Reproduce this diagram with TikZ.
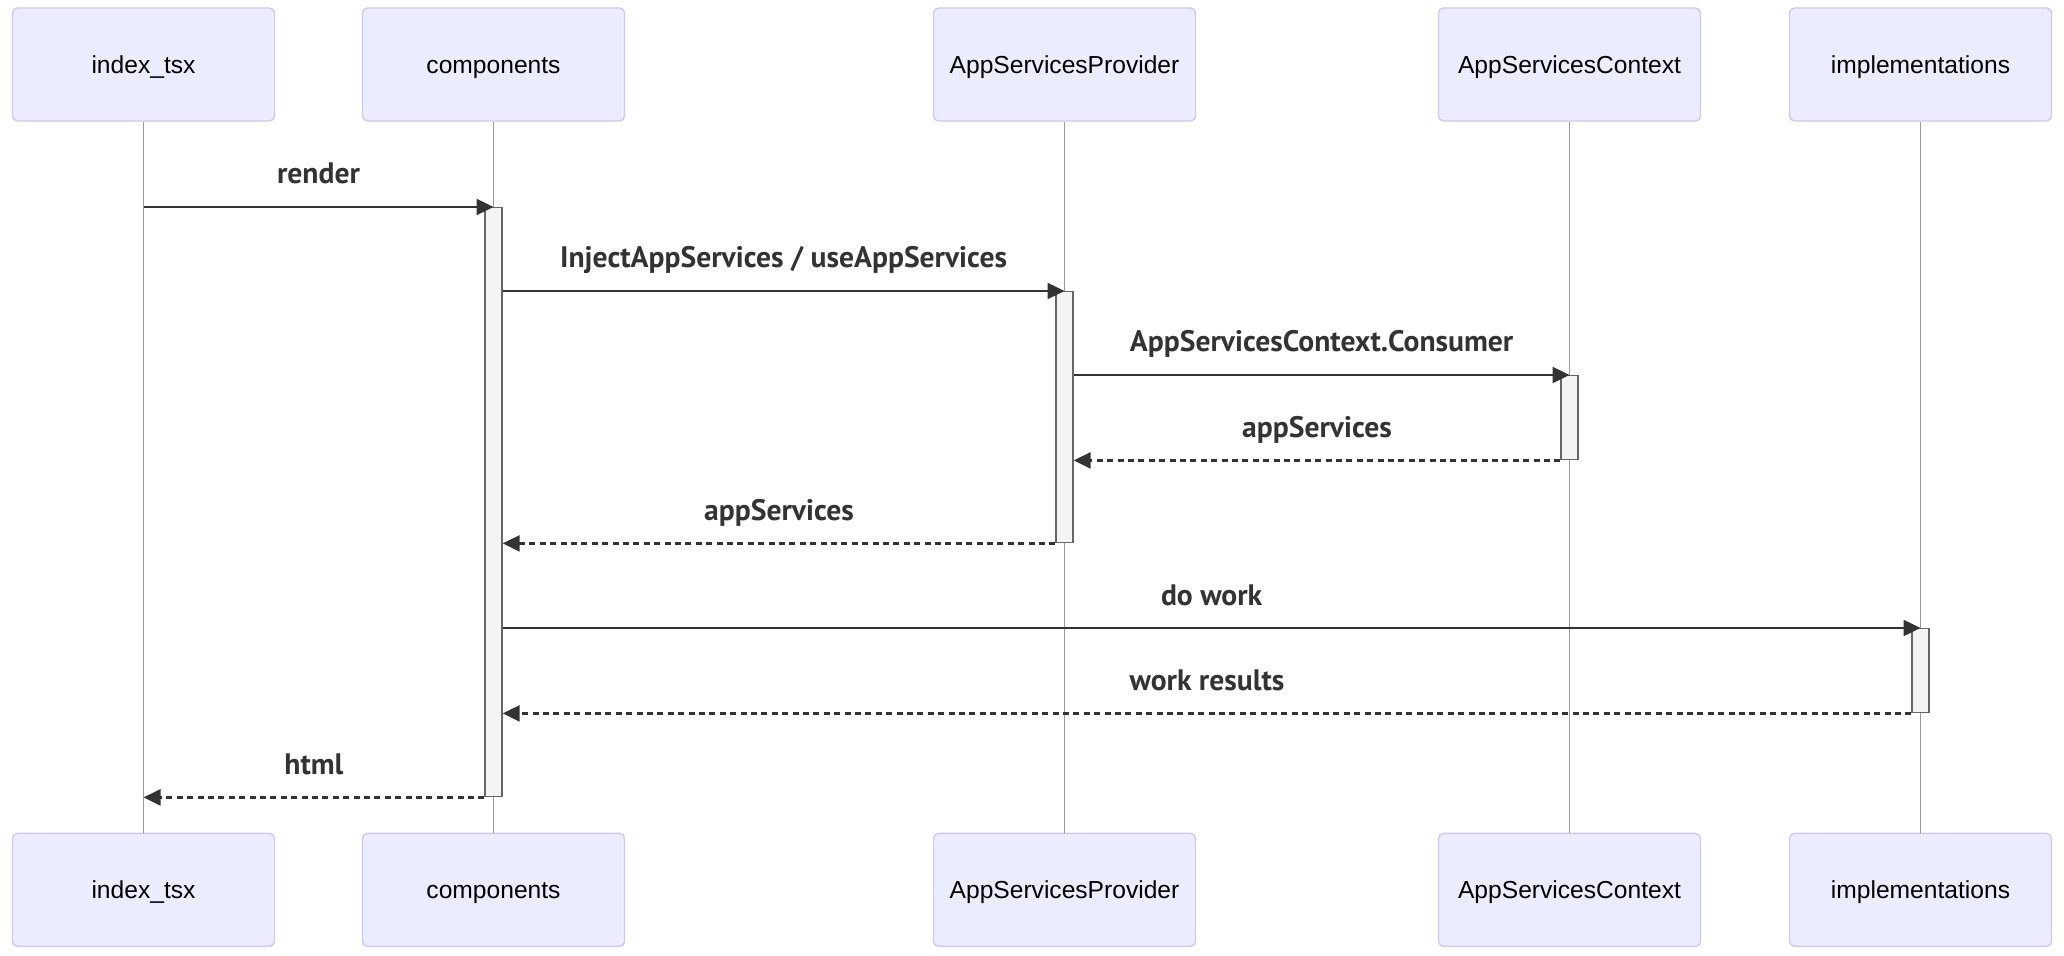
\documentclass[tikz,border=0pt]{standalone}
\usepackage{fontspec}
\setmainfont{Liberation Sans}
\newfontfamily\msgfont{PT Sans}
\usetikzlibrary{arrows.meta,positioning}
\definecolor{actorfill}{HTML}{ECECFF}
\definecolor{actorline}{HTML}{D2C6F2}
\definecolor{msgtext}{HTML}{333333}
\definecolor{actfill}{HTML}{F4F4F4}
\tikzset{
  pbox/.style={rectangle,rounded corners=2.5pt,draw=actorline,fill=actorfill,line width=0.7pt,
               minimum width=131pt,minimum height=56.5pt,text height=11.5pt,text depth=2.7pt,
               font=\fontsize{12.3}{14}\selectfont},
  life/.style={draw=black!40,line width=0.4pt},
  act/.style={rectangle,draw=black!60,fill=actfill,line width=0.7pt,inner sep=0pt,
              minimum width=8.5pt,anchor=north},
  msg/.style={-{Triangle[length=8.5pt,width=8pt]},line width=1.2pt,color=msgtext},
  ret/.style={msg,dash pattern=on 3pt off 2.2pt},
  mlabel/.style={midway,anchor=base,yshift=11.5pt,inner sep=0pt,text=msgtext,
                 font=\msgfont\bfseries\fontsize{14.8}{17}\selectfont},
}

\begin{document}
\begin{tikzpicture}[x=0.5pt,y=-0.5pt]
    \useasboundingbox (0,0) rectangle (2064,956);
    \node[pbox] (idx) at (143.5,64.5) {index\_tsx};
    \node[pbox,right=43.3pt of idx] (comp) {components};
    \node[pbox,right=153.8pt of comp] (prov) {AppServicesProvider};
    \node[pbox,right=120.8pt of prov] (ctx) {AppServicesContext};
    \node[pbox,right=43.8pt of ctx] (impl) {implementations};
    \node[pbox,below=355.5pt of idx] (idxB) {index\_tsx};
    \node[pbox,below=355.5pt of comp] (compB) {components};
    \node[pbox,below=355.5pt of prov] (provB) {AppServicesProvider};
    \node[pbox,below=355.5pt of ctx] (ctxB) {AppServicesContext};
    \node[pbox,below=355.5pt of impl] (implB) {implementations};
    \foreach \p in {idx,comp,prov,ctx,impl}
      \draw[life] (\p.south) -- (\p B.north);
    \node[act,minimum height=294.5pt] (actC) at (comp.south |- 0,207) {};
    \node[act,minimum height=125.5pt] (actP) at (prov.south |- 0,291) {};
    \node[act,minimum height=42pt] (actX) at (ctx.south |- 0,375) {};
    \node[act,minimum height=42pt] (actI) at (impl.south |- 0,628) {};
    \draw[msg] (idx.south |- actC.north) -- (actC.north) node[mlabel] {render};
    \draw[msg] (actC.east |- actP.north) -- (actP.north) node[mlabel] {InjectAppServices / useAppServices};
    \draw[msg] (actP.east |- actX.north) -- (actX.north) node[mlabel] {AppServicesContext.Consumer};
    \draw[ret] (actX.south west) -- (actP.east |- actX.south) node[mlabel] {appServices};
    \draw[ret] (actP.south west) -- (actC.east |- actP.south) node[mlabel] {appServices};
    \draw[msg] (actC.east |- actI.north) -- (actI.north) node[mlabel] {do work};
    \draw[ret] (actI.south west) -- (actC.east |- actI.south) node[mlabel] {work results};
    \draw[ret] (actC.south west) -- (idx.south |- actC.south) node[mlabel] {html};
\end{tikzpicture}
\end{document}
